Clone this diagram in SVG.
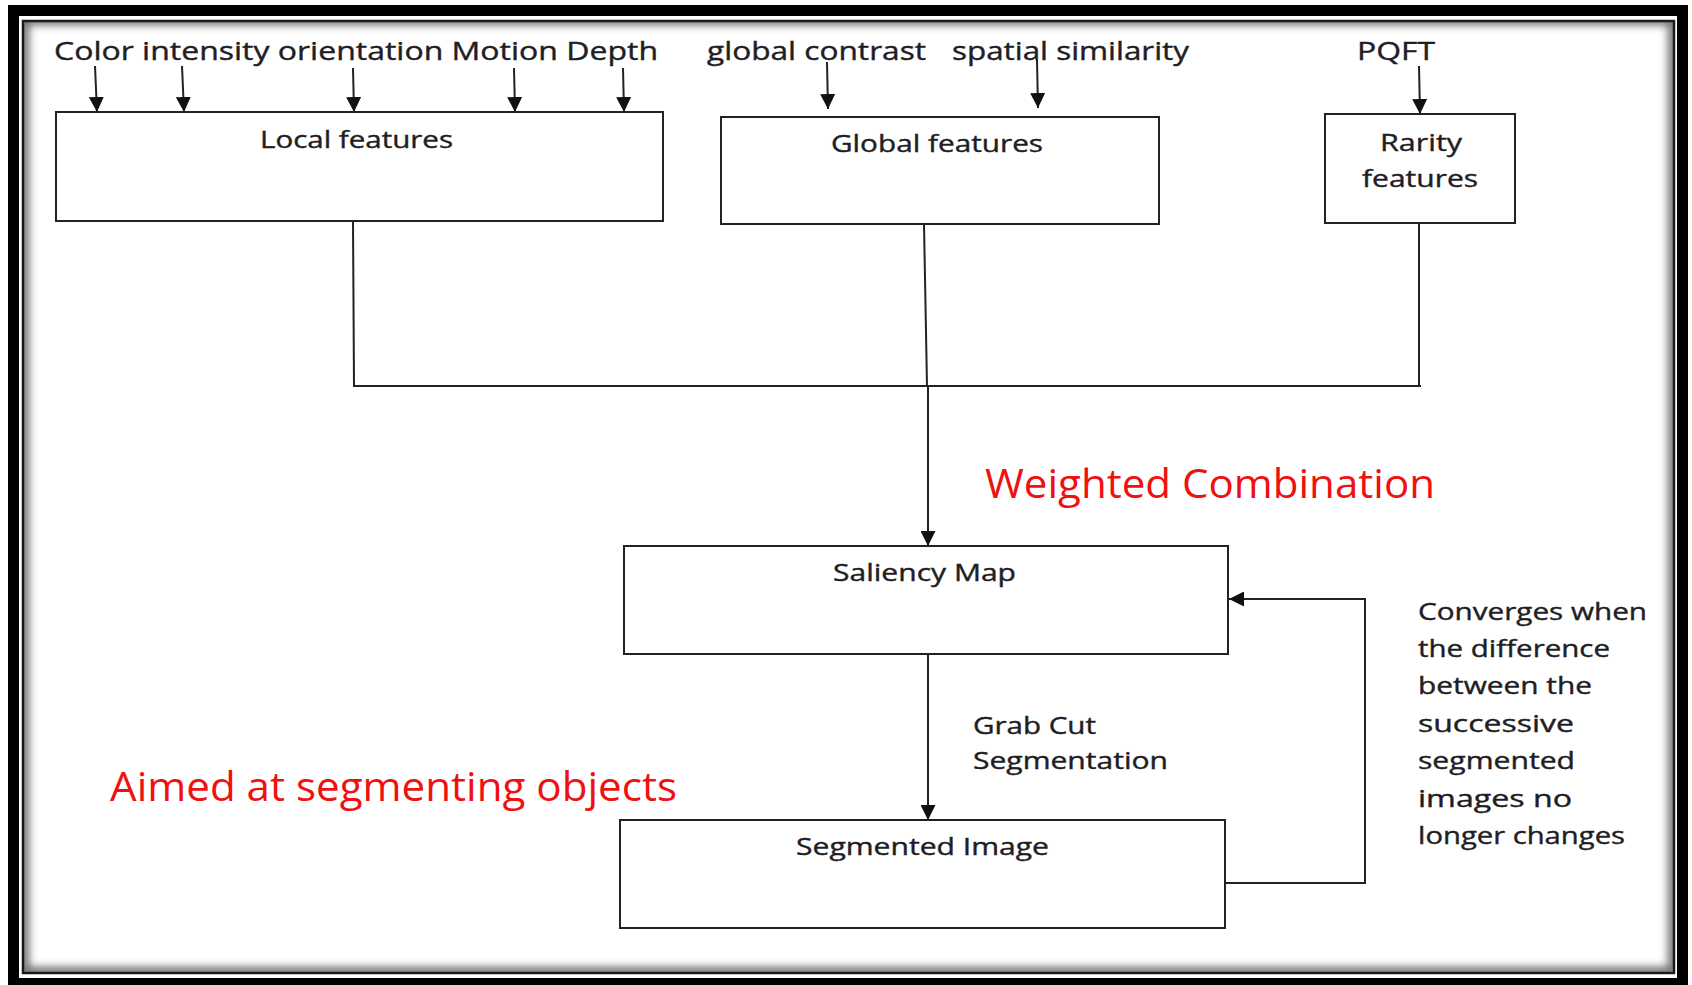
<svg xmlns="http://www.w3.org/2000/svg" width="1692" height="985" viewBox="0 0 1692 985">
<style>
  .box { fill: #ffffff; stroke: #222222; stroke-width: 2; }
  .ln { fill: none; stroke: #222222; stroke-width: 2; }
  .arr { fill: none; stroke: #222222; stroke-width: 2; marker-end: url(#ah); }
  .t { font-family: "Open Sans", "Noto Sans", sans-serif; fill: #1e1e24; stroke: #1e1e24; stroke-width: 0.4; }
  .top { font-size: 26px; }
  .lbl { font-size: 24px; }
  .red { font-family: "Open Sans", "Noto Sans", sans-serif; fill: #f01010; font-size: 40px; }
</style>
<defs>
  <marker id="ah" viewBox="0 0 15 15" refX="15" refY="7.5" markerWidth="15" markerHeight="15" markerUnits="userSpaceOnUse" orient="auto">
    <path d="M0,0 L15,7.5 L0,15 Z" fill="#111111"/>
  </marker>
  <clipPath id="inner">
    <rect x="24" y="22" width="1649" height="950"/>
  </clipPath>
  <filter id="blur" x="-5%" y="-5%" width="110%" height="110%">
    <feGaussianBlur stdDeviation="4"/>
  </filter>
</defs>
<rect x="0" y="0" width="1692" height="985" fill="#ffffff"/>
<g id="frame">
  <rect x="13.5" y="10.5" width="1669" height="973" fill="none" stroke="#000000" stroke-width="11"/>
  <g clip-path="url(#inner)">
    <rect x="24" y="20" width="1649" height="952" fill="none" stroke="#6a6a6a" stroke-width="10" filter="url(#blur)"/>
  </g>
  <rect x="23" y="21" width="1651" height="952" fill="none" stroke="#1a1a1a" stroke-width="2.5"/>
</g>

<g id="connectors">
  <line class="arr" x1="95" y1="66" x2="97" y2="112"/>
  <line class="arr" x1="182" y1="66" x2="184" y2="112"/>
  <line class="arr" x1="353" y1="68" x2="354" y2="112"/>
  <line class="arr" x1="514" y1="68" x2="515" y2="112"/>
  <line class="arr" x1="623" y1="68" x2="624" y2="112"/>
  <line class="arr" x1="827" y1="62" x2="828" y2="109"/>
  <line class="arr" x1="1037" y1="60" x2="1038" y2="108"/>
  <line class="arr" x1="1419" y1="66" x2="1420" y2="114"/>
  <line class="ln" x1="353" y1="221" x2="354" y2="386"/>
  <line class="ln" x1="924" y1="224" x2="927" y2="386"/>
  <line class="ln" x1="1419" y1="223" x2="1419" y2="386"/>
  <line class="ln" x1="353" y1="386" x2="1421" y2="386"/>
  <line class="arr" x1="928" y1="386" x2="928" y2="546"/>
  <line class="arr" x1="928" y1="654" x2="928" y2="820"/>
  <polyline class="arr" points="1225,883 1365,883 1365,599 1229,599"/>
</g>

<g id="inputs">
  <text class="t top" x="54" y="60" textLength="604" lengthAdjust="spacingAndGlyphs">Color intensity orientation Motion Depth</text>
  <text class="t top" x="707" y="60" textLength="219" lengthAdjust="spacingAndGlyphs">global contrast</text>
  <text class="t top" x="952" y="60" textLength="237" lengthAdjust="spacingAndGlyphs">spatial similarity</text>
  <text class="t top" x="1357" y="60" textLength="78" lengthAdjust="spacingAndGlyphs">PQFT</text>
</g>

<g id="local-features">
  <rect class="box" x="56" y="112" width="607" height="109"/>
  <text class="t lbl" x="260" y="148" textLength="193" lengthAdjust="spacingAndGlyphs">Local features</text>
</g>

<g id="global-features">
  <rect class="box" x="721" y="117" width="438" height="107"/>
  <text class="t lbl" x="831" y="152" textLength="212" lengthAdjust="spacingAndGlyphs">Global features</text>
</g>

<g id="rarity-features">
  <rect class="box" x="1325" y="114" width="190" height="109"/>
  <text class="t lbl" x="1380" y="151" textLength="82" lengthAdjust="spacingAndGlyphs">Rarity</text>
  <text class="t lbl" x="1362" y="187" textLength="116" lengthAdjust="spacingAndGlyphs">features</text>
</g>

<g id="weighted-combination">
  <text class="red" x="985" y="498" textLength="450" lengthAdjust="spacingAndGlyphs">Weighted Combination</text>
</g>

<g id="saliency-map">
  <rect class="box" x="624" y="546" width="604" height="108"/>
  <text class="t lbl" x="833" y="581" textLength="183" lengthAdjust="spacingAndGlyphs">Saliency Map</text>
</g>

<g id="grabcut-label">
  <text class="t lbl" x="973" y="734" textLength="123" lengthAdjust="spacingAndGlyphs">Grab Cut</text>
  <text class="t lbl" x="973" y="769" textLength="195" lengthAdjust="spacingAndGlyphs">Segmentation</text>
</g>

<g id="aim-label">
  <text class="red" x="110" y="801" textLength="567" lengthAdjust="spacingAndGlyphs">Aimed at segmenting objects</text>
</g>

<g id="segmented-image">
  <rect class="box" x="620" y="820" width="605" height="108"/>
  <text class="t lbl" x="796" y="855" textLength="253" lengthAdjust="spacingAndGlyphs">Segmented Image</text>
</g>

<g id="convergence-note">
  <text class="t lbl" x="1418" y="620" textLength="229" lengthAdjust="spacingAndGlyphs">Converges when</text>
  <text class="t lbl" x="1418" y="657" textLength="192" lengthAdjust="spacingAndGlyphs">the difference</text>
  <text class="t lbl" x="1418" y="694" textLength="174" lengthAdjust="spacingAndGlyphs">between the</text>
  <text class="t lbl" x="1418" y="732" textLength="156" lengthAdjust="spacingAndGlyphs">successive</text>
  <text class="t lbl" x="1418" y="769" textLength="157" lengthAdjust="spacingAndGlyphs">segmented</text>
  <text class="t lbl" x="1418" y="807" textLength="154" lengthAdjust="spacingAndGlyphs">images no</text>
  <text class="t lbl" x="1418" y="844" textLength="207" lengthAdjust="spacingAndGlyphs">longer changes</text>
</g>
</svg>
